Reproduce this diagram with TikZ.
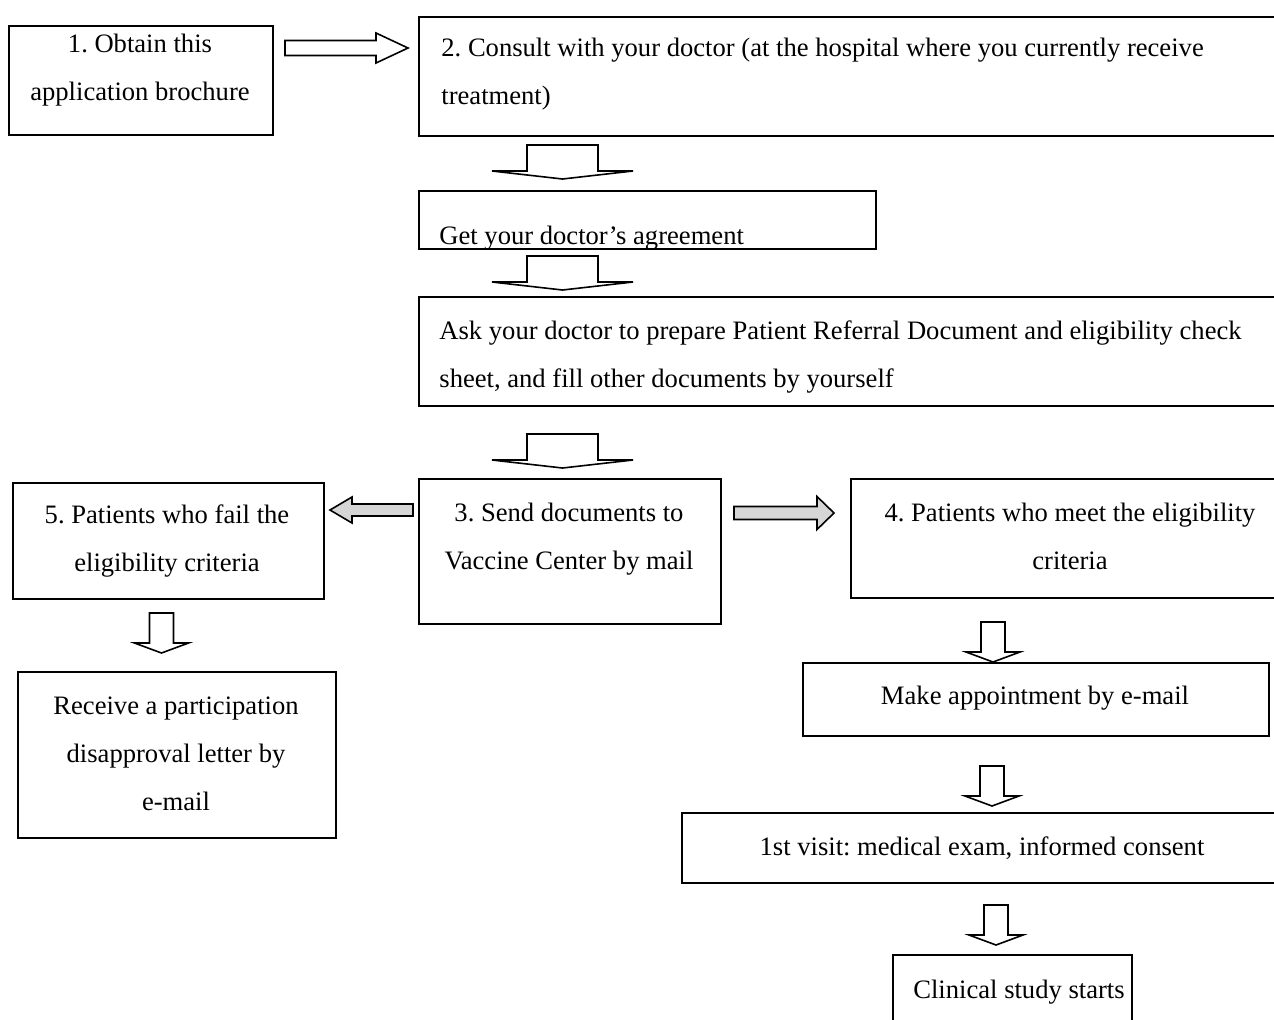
\documentclass[tikz,border=0pt]{standalone}
\usepackage{fontspec}
\setmainfont{Liberation Serif}
\usetikzlibrary{calc}

\tikzset{
    box/.style={draw, line width=1pt, anchor=north west, inner sep=0pt},
    txt/.style={font=\fontsize{13.3}{24}\selectfont\frenchspacing, inner sep=0pt},
    plainarr/.style={draw, line width=0.8pt, fill=white},
    grayarr/.style={draw, line width=0.8pt, fill=black!16}
}

% #1 style, #2 start, #3 angle, #4 length, #5 shaft half width, #6 head half width, #7 head length
\newcommand{\barrow}[7]{%
    \path[#1, shift={#2}, rotate=#3]
        (0,-#5) -- ({#4-#7},-#5) -- ({#4-#7},-#6) -- (#4,0)
        -- ({#4-#7},#6) -- ({#4-#7},#5) -- (0,#5) -- cycle;}

\begin{document}
\begin{tikzpicture}[x=0.5pt,y=-0.5pt]
            \useasboundingbox (0,0) rectangle (1274,1019);
            \clip (0,0) rectangle (1274,1019);

            \node (obtain) at (8,25) [box, minimum width=132pt, minimum height=54.5pt] {};
            \node (consult) at (418,16) [box, minimum width=450pt, minimum height=59.5pt] {};
            \node (agree) at (418,190) [box, minimum width=228.5pt, minimum height=28.75pt] {};
            \node (ask) at (418,296) [box, minimum width=450pt, minimum height=54.5pt] {};
            \node (send) at (418,478) [box, minimum width=151pt, minimum height=72.5pt] {};
            \node (fail) at (12,482) [box, minimum width=155.5pt, minimum height=58pt] {};
            \node (meet) at (850,478) [box, minimum width=230pt, minimum height=59.5pt] {};
            \node (receive) at (17,671) [box, minimum width=159pt, minimum height=83pt] {};
            \node (appoint) at (802,662) [box, minimum width=233pt, minimum height=36.5pt] {};
            \node (visit) at (681,812) [box, minimum width=320pt, minimum height=35pt] {};
            \node (starts) at (892,954) [box, minimum width=119.5pt, minimum height=40pt] {};

            \node (tobtain) at (140,100) [txt, anchor=base, align=center] {1. Obtain this\\application brochure};
            \node (tconsult) at (441,104) [txt, anchor=base west, align=left] {2. Consult with your doctor (at the hospital where you currently receive\\treatment)};
            \begin{scope}
                \clip (agree.north west) rectangle (agree.south east);
                \node (tagree) at (439,244) [txt, anchor=base west] {Get your doctor's agreement};
            \end{scope}
            \node (task) at (439,387) [txt, anchor=base west, align=left] {Ask your doctor to prepare Patient Referral Document and eligibility check\\sheet, and fill other documents by yourself};
            \node (tsend) at (569,569) [txt, anchor=base, align=center] {3. Send documents to\\Vaccine Center by mail};
            \node (tfail) at (167,571) [txt, anchor=base, align=center] {5. Patients who fail the\\eligibility criteria};
            \node (tmeet) at (1070,569) [txt, anchor=base, align=center] {4. Patients who meet the eligibility\\criteria};
            \node (treceive) at (176,810) [txt, anchor=base, align=center] {Receive a participation\\disapproval letter by\\e-mail};
            \node (tappoint) at (1035,704) [txt, anchor=base] {Make appointment by e-mail};
            \node (tvisit) at (982,855) [txt, anchor=base] {1st visit: medical exam, informed consent};
            \node (tstarts) at (1019,998) [txt, anchor=base] {Clinical study starts};

            \barrow{plainarr}{($(obtain.north east)+(11,23)$)}{0}{123}{7.5}{15}{32}
            \foreach \y in {145,256,434}
                {
                    \barrow{plainarr}{(562.5,\y)}{-90}{34}{35.5}{70.5}{8}
                }
            \barrow{grayarr}{($(send.north west)+(-5,32)$)}{180}{83}{6}{13}{22}
            \barrow{grayarr}{($(send.north east)+(12,35)$)}{0}{100}{6.5}{16.5}{17}
            \foreach \x/\y in {161.5/613, 993/622, 992/766, 996/905}
                {
                    \barrow{plainarr}{(\x,\y)}{-90}{40}{12}{27}{10}
                }

        \end{tikzpicture}
\end{document}
